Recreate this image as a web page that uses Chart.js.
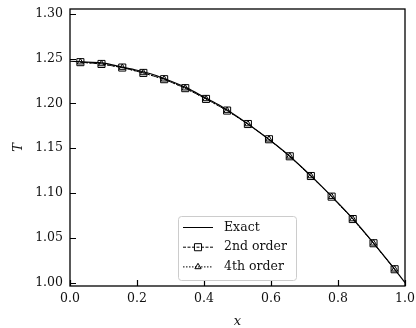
<!DOCTYPE html>
<html>
<head>
<meta charset="utf-8">
<script src="https://cdn.jsdelivr.net/npm/chart.js@4/dist/chart.umd.min.js"></script>
<style>
  html, body { margin: 0; padding: 0; background: #fff; }
  #wrap { width: 416px; height: 328px; }
</style>
</head>
<body>
<div id="wrap"><canvas id="tChart" width="416" height="328"></canvas></div>
<script>
// exact solution
const exactX = [0, 0.05, 0.1, 0.15, 0.2, 0.25, 0.3, 0.35, 0.4, 0.45, 0.5,
                0.55, 0.6, 0.65, 0.7, 0.75, 0.8, 0.85, 0.9, 0.95, 1.0];
const exactT = [1.247, 1.246, 1.245, 1.241, 1.237, 1.232, 1.225, 1.217, 1.207, 1.197, 1.185,
                1.172, 1.158, 1.143, 1.126, 1.108, 1.089, 1.069, 1.047, 1.024, 1.000];

// cell centres
const cellX = [0.031, 0.094, 0.156, 0.219, 0.281, 0.344, 0.406, 0.469,
               0.531, 0.594, 0.656, 0.719, 0.781, 0.844, 0.906, 0.969];
const secondT = [1.246, 1.244, 1.240, 1.234, 1.227, 1.217, 1.205, 1.192,
                 1.177, 1.160, 1.141, 1.119, 1.096, 1.071, 1.044, 1.015];
const fourthT = [1.246, 1.244, 1.240, 1.234, 1.227, 1.217, 1.205, 1.192,
                 1.177, 1.160, 1.141, 1.119, 1.096, 1.071, 1.044, 1.015];

const xTicks = [0.0, 0.2, 0.4, 0.6, 0.8, 1.0];
const yTicks = [1.00, 1.05, 1.10, 1.15, 1.20, 1.25, 1.30];

const serif = "'DejaVu Serif', serif";

function toPoints(xs, ys){
  return xs.map(function(x, i){ return {x: x, y: ys[i]}; });
}

// frame + inward ticks + matplotlib-ish legend
const framePlugin = {
  id: 'frame',
  afterDraw: function(chart){
    const ctx = chart.ctx;
    const a = chart.chartArea;
    const xs = chart.scales.x, ys = chart.scales.y;
    ctx.save();
    ctx.strokeStyle = '#000';
    ctx.lineWidth = 1.3;
    ctx.strokeRect(a.left, a.top, a.right - a.left, a.bottom - a.top);
    ctx.lineWidth = 1.2;
    ctx.beginPath();
    yTicks.forEach(function(v){
      const p = Math.round(ys.getPixelForValue(v)) + 0.5;
      ctx.moveTo(a.left, p); ctx.lineTo(a.left + 6, p);
    });
    xTicks.forEach(function(v){
      const p = Math.round(xs.getPixelForValue(v)) + 0.5;
      ctx.moveTo(p, a.bottom); ctx.lineTo(p, a.bottom - 6);
    });
    ctx.stroke();

    // legend box
    const bx = 178.5, by = 216.5, bw = 118, bh = 64;
    ctx.beginPath();
    ctx.roundRect(bx, by, bw, bh, 3);
    ctx.fillStyle = 'rgba(255,255,255,0.85)';
    ctx.fill();
    ctx.strokeStyle = '#cccccc';
    ctx.lineWidth = 1;
    ctx.stroke();

    ctx.font = '12.5px ' + serif;
    ctx.textBaseline = 'middle';
    chart.data.datasets.forEach(function(ds, i){
      const ry = 227.5 + i * 19.7;
      ctx.strokeStyle = '#000';
      ctx.lineWidth = 1;
      ctx.setLineDash(ds.borderDash || []);
      ctx.beginPath();
      ctx.moveTo(183, ry); ctx.lineTo(213, ry);
      ctx.stroke();
      ctx.setLineDash([]);
      if (ds.pointRadius > 0) {
        ctx.fillStyle = 'rgba(0,0,0,0)';
        Chart.helpers.drawPoint(ctx, {
          pointStyle: ds.pointStyle, radius: ds.pointRadius,
          rotation: 0, borderWidth: 1
        }, 198, ry);
      }
      ctx.fillStyle = '#111';
      ctx.fillText(ds.label, 224, ry);
    });
    ctx.restore();
  }
};

const data = {
  datasets: [{
    label: 'Exact',
    data: toPoints(exactX, exactT),
    borderColor: '#000',
    borderWidth: 1.2,
    pointRadius: 0,
    cubicInterpolationMode: 'monotone'
  },
  {
    label: '2nd order',
    data: toPoints(cellX, secondT),
    borderColor: '#000',
    borderWidth: 1,
    borderDash: [3, 1.5],
    pointStyle: 'rect',
    pointRadius: 5,
    pointBorderWidth: 1,
    pointBorderColor: '#000',
    pointBackgroundColor: 'rgba(0,0,0,0)'
  },
  {
    label: '4th order',
    data: toPoints(cellX, fourthT),
    borderColor: '#000',
    borderWidth: 1,
    borderDash: [1.5, 1.5],
    pointStyle: 'triangle',
    pointRadius: 3.6,
    pointBorderWidth: 1,
    pointBorderColor: '#000',
    pointBackgroundColor: 'rgba(0,0,0,0)'
  }]
};

const options = {
  responsive: false,
  animation: false,
  layout: { padding: { left: 0, right: 11, top: 9, bottom: 0 } },
  plugins: {
    legend: { display: false },
    tooltip: { enabled: false }
  },
  scales: {
    x: {
      type: 'linear',
      min: 0, max: 1,
      afterBuildTicks: function(s){ s.ticks = xTicks.map(function(v){ return {value: v}; }); },
      afterFit: function(s){ s.height = 42; s.paddingLeft = 0; s.paddingRight = 0; },
      grid: { display: false, drawTicks: false },
      border: { display: false },
      ticks: {
        padding: 5,
        color: '#111',
        font: { family: serif, size: 12.5 },
        maxRotation: 0,
        callback: function(v){ return v.toFixed(1); }
      },
      title: {
        display: true, text: 'x', color: '#111',
        font: { family: serif, size: 13, style: 'italic', lineHeight: 1 },
        padding: { top: 0, bottom: 0 }
      }
    },
    y: {
      min: 0.9963, max: 1.3053,
      afterBuildTicks: function(s){ s.ticks = yTicks.map(function(v){ return {value: v}; }); },
      afterFit: function(s){ s.width = 70; s.paddingTop = 0; s.paddingBottom = 0; },
      grid: { display: false, drawTicks: false },
      border: { display: false },
      ticks: {
        padding: 7,
        color: '#111',
        font: { family: serif, size: 12.5 },
        callback: function(v){ return v.toFixed(2); }
      },
      title: {
        display: true, text: 'T', color: '#111',
        font: { family: serif, size: 13, style: 'italic', lineHeight: 1 },
        padding: { top: 12, bottom: 0 }
      }
    }
  }
};

const config = {
  type: 'line',
  data: data,
  options: options,
  plugins: [framePlugin]
};

const tCanvas = document.getElementById('tChart').getContext('2d');
const tChart = new Chart(tCanvas, config);
</script>
</body>
</html>
